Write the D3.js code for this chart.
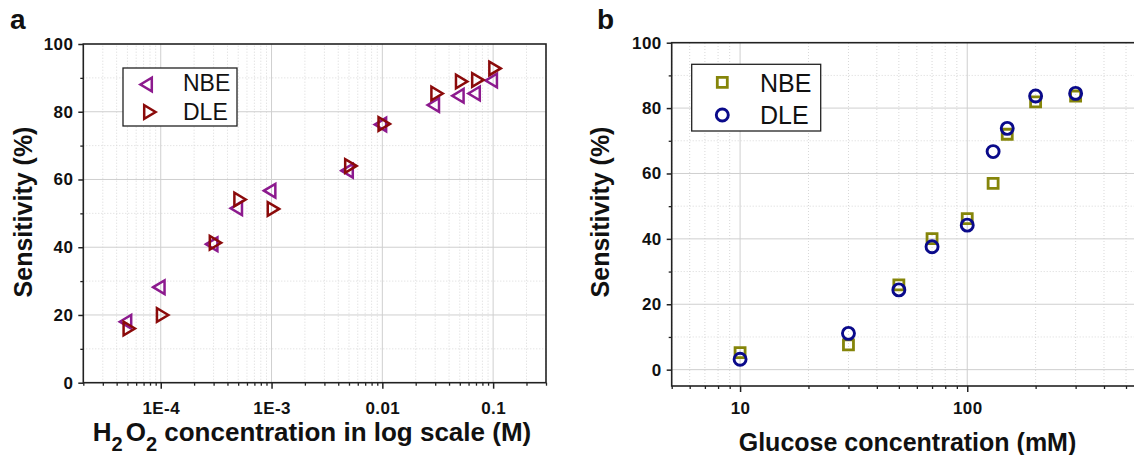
<!DOCTYPE html>
<html>
<head>
<meta charset="utf-8">
<script src="https://cdn.jsdelivr.net/npm/d3@7"></script>
<style>
  body { margin: 0; background: #fff; }
  text { font-family: "Liberation Sans", Arial, Helvetica, sans-serif; fill: #111; }
</style>
</head>
<body>
<svg id="chart" width="1134" height="455"></svg>
<script>
// panel a: H2O2 concentration (M)
const h2o2Conc = [5e-5, 1e-4, 3e-4, 5e-4, 1e-3, 5e-3, 1e-2, 3e-2, 5e-2, 7e-2, 0.1];
const h2o2NBE = [18.0, 28.2, 40.9, 51.5, 56.7, 62.6, 76.2, 82.0, 84.7, 85.4, 89.2];
const h2o2DLE = [16.0, 20.0, 41.3, 54.1, 51.3, 64.0, 76.4, 85.4, 88.9, 89.4, 92.8];
const h2o2Ticks = [1e-4, 1e-3, 1e-2, 0.1];
const h2o2TickLabels = ["1E-4", "1E-3", "0.01", "0.1"];

// panel b: glucose concentration (mM)
const glucoseConc = [10, 30, 50, 70, 100, 130, 150, 200, 300];
const glucoseNBE = [5.2, 7.6, 25.9, 40.1, 46.2, 57.0, 72.0, 81.9, 83.7];
const glucoseDLE = [3.2, 11.1, 24.4, 37.6, 44.2, 66.7, 73.8, 83.7, 84.5];
const glucoseTicks = [10, 100];
const glucoseTickLabels = ["10", "100"];

const yTicks = [0, 20, 40, 60, 80, 100];
const yMinor = [10, 30, 50, 70, 90];
const seriesNames = ["NBE", "DLE"];

const svg = d3.select("#chart");

// marker paths, triangles centred on their centroid
const triLeft = "M-7.6,0L3.8,-6.8L3.8,6.8Z";
const triRight = "M7.6,0L-3.8,-6.8L-3.8,6.8Z";
const square = "M-5,-5H5V5H-5Z";

function drawPanel(o) {
  const g = svg.append("g");
  const [x0, x1] = o.x.range();
  const [yb, yt] = o.y.range();

  // minor log ticks
  const minorX = o.x.ticks().filter(v => {
    const m = v / Math.pow(10, Math.floor(Math.log10(v) + 1e-9));
    return Math.abs(m - 1) > 1e-6;
  });
  const majorX = o.xTicks;

  // grid
  const grid = g.append("g");
  grid.selectAll(".gxm").data(minorX).enter().append("line")
    .attr("x1", d => o.x(d)).attr("x2", d => o.x(d))
    .attr("y1", yb).attr("y2", yt)
    .attr("stroke", "#d8d8d8").attr("stroke-dasharray", "1,2");
  grid.selectAll(".gym").data(yMinor).enter().append("line")
    .attr("x1", x0).attr("x2", x1)
    .attr("y1", d => o.y(d)).attr("y2", d => o.y(d))
    .attr("stroke", "#d8d8d8").attr("stroke-dasharray", "1,2");
  grid.selectAll(".gx").data(majorX).enter().append("line")
    .attr("x1", d => o.x(d)).attr("x2", d => o.x(d))
    .attr("y1", yb).attr("y2", yt)
    .attr("stroke", "#cfcfcf").attr("stroke-width", 1);
  grid.selectAll(".gy").data(yTicks.filter(d => o.y(d) < yb - 1 && o.y(d) > yt + 1)).enter().append("line")
    .attr("x1", x0).attr("x2", x1)
    .attr("y1", d => o.y(d)).attr("y2", d => o.y(d))
    .attr("stroke", "#cfcfcf").attr("stroke-width", 1);

  // axes
  const tickFont = sel => sel.selectAll("text")
    .style("font-size", "17px").style("font-weight", "bold")
    .style("letter-spacing", "0.4px").attr("fill", "#111");

  g.append("g").attr("transform", `translate(0,${yb})`)
    .call(d3.axisBottom(o.x).tickValues(minorX).tickSize(3).tickFormat(""))
    .call(a => a.select(".domain").remove())
    .call(a => a.selectAll("line").attr("stroke", "#222").attr("stroke-width", 1.3));
  g.append("g").attr("transform", `translate(0,${yb})`)
    .call(d3.axisBottom(o.x).tickValues(majorX).tickSize(6).tickPadding(o.xPad)
      .tickFormat((d, i) => o.xLabels[i]))
    .call(a => a.select(".domain").remove())
    .call(a => a.selectAll("line").attr("stroke", "#222").attr("stroke-width", 1.5))
    .call(tickFont);

  g.append("g").attr("transform", `translate(${x0},0)`)
    .call(d3.axisLeft(o.y).tickValues(yMinor).tickSize(3).tickFormat(""))
    .call(a => a.select(".domain").remove())
    .call(a => a.selectAll("line").attr("stroke", "#222").attr("stroke-width", 1.3));
  g.append("g").attr("transform", `translate(${x0},0)`)
    .call(d3.axisLeft(o.y).tickValues(yTicks).tickSize(5).tickPadding(5))
    .call(a => a.select(".domain").remove())
    .call(a => a.selectAll("line").attr("stroke", "#222").attr("stroke-width", 1.5))
    .call(tickFont);

  // frame
  g.append("rect").attr("x", x0).attr("y", yt)
    .attr("width", x1 - x0).attr("height", yb - yt)
    .attr("fill", "none").attr("stroke", "#222").attr("stroke-width", 1.6);

  // series
  o.series.forEach(s => {
    g.append("g").selectAll("path").data(o.xs).enter().append("path")
      .attr("d", s.shape)
      .attr("transform", (d, i) => `translate(${o.x(d)},${o.y(s.values[i])})`)
      .attr("fill", "none").attr("stroke", s.color).attr("stroke-width", s.sw)
      .attr("stroke-linejoin", "miter");
  });

  // legend
  const L = o.legend;
  g.append("rect").attr("x", L.x).attr("y", L.y).attr("width", L.w).attr("height", L.h)
    .attr("fill", "#fff").attr("stroke", "#222").attr("stroke-width", 1.3);
  o.series.forEach((s, i) => {
    g.append("path").attr("d", s.shape)
      .attr("transform", `translate(${L.sx},${L.sy[i]})`)
      .attr("fill", "none").attr("stroke", s.color).attr("stroke-width", s.sw);
    g.append("text").attr("x", L.tx).attr("y", L.ty[i])
      .attr("font-size", L.fs).text(seriesNames[i]);
  });

  // titles
  g.append("text").attr("x", o.label[0]).attr("y", o.label[1])
    .attr("font-size", 28).attr("font-weight", "bold").text(o.label[2]);
  g.append("text")
    .attr("transform", `translate(${o.yTitle[0]},${o.yTitle[1]}) rotate(-90)`)
    .attr("text-anchor", "middle").attr("font-size", 25).attr("font-weight", "bold")
    .text("Sensitivity (%)");
  return g;
}

// panel a
const xA = d3.scaleLog().domain([2e-5, 0.3]).range([83.3, 546]);
const yA = d3.scaleLinear().domain([0, 100]).range([382.7, 44]);
const gA = drawPanel({
  x: xA, y: yA, xs: h2o2Conc, xTicks: h2o2Ticks, xLabels: h2o2TickLabels, xPad: 13,
  series: [
    { values: h2o2NBE, shape: triLeft, color: "#8c1a8e", sw: 2.5 },
    { values: h2o2DLE, shape: triRight, color: "#8b0a0a", sw: 2.5 }
  ],
  legend: { x: 123, y: 68, w: 114, h: 58, sx: 148, sy: [84.5, 112], tx: 183, ty: [91, 120], fs: 23 },
  label: [10, 29, "a"],
  yTitle: [32, 212]
});
const tA = gA.append("text").attr("x", 312).attr("y", 441)
  .attr("text-anchor", "middle").attr("font-size", 26).attr("font-weight", "bold");
tA.append("tspan").text("H");
tA.append("tspan").attr("dy", 10).attr("font-size", 20).text("2");
tA.append("tspan").attr("dy", -10).attr("dx", 3).text("O");
tA.append("tspan").attr("dy", 10).attr("font-size", 20).text("2");
tA.append("tspan").attr("dy", -10).text(" concentration in log scale (M)");

// panel b
const xB = d3.scaleLog().domain([5, 600]).range([671.7, 1144]);
const yB = d3.scaleLinear().domain([-5, 100]).range([386, 42.7]);
const gB = drawPanel({
  x: xB, y: yB, xs: glucoseConc, xTicks: glucoseTicks, xLabels: glucoseTickLabels, xPad: 10,
  series: [
    { values: glucoseNBE, shape: square, color: "#85850a", sw: 2.8 },
    { values: glucoseDLE, shape: d3.symbol(d3.symbolCircle, Math.PI * 36)(), color: "#0a0a8a", sw: 2.9 }
  ],
  legend: { x: 691.7, y: 64.3, w: 129, h: 66.7, sx: 722.3, sy: [82.3, 115], tx: 760, ty: [91.7, 124], fs: 25 },
  label: [597, 29, "b"],
  yTitle: [609, 212]
});
gB.append("text").attr("x", 907.5).attr("y", 450.5)
  .attr("text-anchor", "middle").attr("font-size", 25).attr("font-weight", "bold")
  .text("Glucose concentration (mM)");
</script>
</body>
</html>
